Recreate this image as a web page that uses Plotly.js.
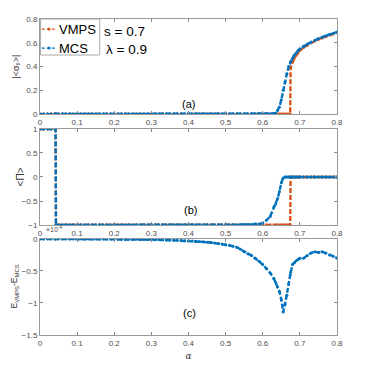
<!DOCTYPE html>
<html>
<head>
<meta charset="utf-8">
<script src="https://cdn.plot.ly/plotly-3.0.1.min.js"></script>
<style>
  html, body { margin: 0; padding: 0; background: #fff; }
  #chart { width: 376px; height: 368px; }
</style>
</head>
<body>
<div id="chart"></div>
<script>
// alpha grid, finer around the jumps
const alpha = [
  0, 0.01, 0.02, 0.03, 0.04,
  0.042, 0.043,
  0.05, 0.06, 0.07, 0.08, 0.09, 0.10, 0.11, 0.12, 0.13, 0.14,
  0.15, 0.16, 0.17, 0.18, 0.19, 0.20, 0.21, 0.22, 0.23, 0.24,
  0.25, 0.26, 0.27, 0.28, 0.29, 0.30, 0.31, 0.32, 0.33, 0.34,
  0.35, 0.36, 0.37, 0.38, 0.39, 0.40, 0.41, 0.42, 0.43, 0.44,
  0.45, 0.46, 0.47, 0.48, 0.49, 0.50, 0.51, 0.52, 0.53, 0.54,
  0.55, 0.56, 0.57, 0.58, 0.59, 0.60, 0.61, 0.62, 0.63,
  0.635, 0.64, 0.645, 0.65, 0.655, 0.66, 0.665, 0.67,
  0.674, 0.675,
  0.68, 0.685, 0.69, 0.695, 0.70,
  0.71, 0.72, 0.73, 0.74, 0.75, 0.76, 0.77, 0.78, 0.79, 0.80
];

// (a) |<sigma_x>|
const sxVMPS = [
  0, 0, 0, 0, 0,
  0, 0,
  0, 0, 0, 0, 0, 0, 0, 0, 0, 0,
  0, 0, 0, 0, 0, 0, 0, 0, 0, 0,
  0, 0, 0, 0, 0, 0, 0, 0, 0, 0,
  0, 0, 0, 0, 0, 0, 0, 0, 0, 0,
  0, 0, 0, 0, 0, 0, 0, 0, 0, 0,
  0, 0, 0, 0, 0, 0, 0, 0, 0,
  0, 0, 0, 0, 0, 0, 0, 0,
  0, 0.39,
  0.44, 0.47, 0.495, 0.515, 0.535,
  0.56, 0.58, 0.60, 0.615, 0.63, 0.64, 0.655, 0.665, 0.675, 0.685
];
const sxMCS = [
  0, 0, 0, 0, 0,
  0, 0,
  0, 0, 0, 0, 0, 0, 0, 0, 0, 0,
  0, 0, 0, 0, 0, 0, 0, 0, 0, 0,
  0, 0, 0, 0, 0, 0, 0, 0, 0, 0,
  0, 0, 0, 0, 0, 0, 0, 0, 0, 0,
  0, 0, 0, 0, 0, 0, 0, 0, 0, 0,
  0, 0, 0, 0, 0, 0, 0, 0, 0.005,
  0.01, 0.03, 0.06, 0.12, 0.2, 0.27, 0.34, 0.4,
  0.43, 0.44,
  0.47, 0.495, 0.515, 0.535, 0.55,
  0.57, 0.59, 0.605, 0.62, 0.635, 0.645, 0.66, 0.67, 0.68, 0.69
];

// (b) <Pi>
const piVMPS = [
  1, 1, 1, 1, 1,
  1, -1,
  -1, -1, -1, -1, -1, -1, -1, -1, -1, -1,
  -1, -1, -1, -1, -1, -1, -1, -1, -1, -1,
  -1, -1, -1, -1, -1, -1, -1, -1, -1, -1,
  -1, -1, -1, -1, -1, -1, -1, -1, -1, -1,
  -1, -1, -1, -1, -1, -1, -1, -1, -1, -1,
  -1, -1, -1, -1, -1, -1, -1, -1, -1,
  -1, -1, -1, -1, -1, -1, -1, -1,
  -1, 0,
  0, 0, 0, 0, 0,
  0, 0, 0, 0, 0, 0, 0, 0, 0, 0
];
const piMCS = [
  1, 1, 1, 1, 1,
  1, -1,
  -1, -1, -1, -1, -1, -1, -1, -1, -1, -1,
  -1, -1, -1, -1, -1, -1, -1, -1, -1, -1,
  -1, -1, -1, -1, -1, -1, -1, -1, -1, -1,
  -1, -1, -1, -1, -1, -1, -1, -1, -1, -1,
  -1, -1, -1, -1, -1, -1, -1, -1, -1, -1,
  -0.99, -0.99, -0.99, -0.98, -0.98, -0.96, -0.9, -0.82, -0.62,
  -0.56, -0.45, -0.3, -0.12, -0.02, 0, 0, 0,
  0, 0,
  0, 0, 0, 0, 0,
  0, 0, 0, 0, 0, 0, 0, 0, 0, 0
];

// (c) E_VMPS - E_MCS, in units of 1e-4
const dE = [
  0, 0, 0, 0, 0,
  0, 0,
  0, 0, 0, 0, 0, 0, 0, 0, -0.001, -0.001,
  -0.001, -0.001, -0.001, -0.002, -0.002, -0.002, -0.003, -0.003, -0.004, -0.004,
  -0.005, -0.006, -0.007, -0.008, -0.009, -0.01, -0.011, -0.012, -0.014, -0.016,
  -0.018, -0.02, -0.022, -0.024, -0.027, -0.03, -0.033, -0.036, -0.04, -0.044,
  -0.05, -0.056, -0.063, -0.07, -0.078, -0.09, -0.1, -0.115, -0.13, -0.16,
  -0.2, -0.23, -0.26, -0.3, -0.35, -0.4, -0.46, -0.53, -0.62,
  -0.68, -0.75, -0.82, -0.95, -1.14, -1.02, -0.88, -0.7,
  -0.56, -0.52,
  -0.4, -0.37, -0.34, -0.32, -0.3,
  -0.3, -0.26, -0.22, -0.2, -0.21, -0.2, -0.22, -0.25, -0.27, -0.3
];

const seriesNames = ['VMPS', 'MCS'];
const orange = '#D95319';
const blue = '#0072BD';
const FONT = 'Liberation Sans, Arial, sans-serif';

function series(y, color, xa, ya) {
  return {
    x: alpha, y: y,
    xaxis: xa, yaxis: ya,
    type: 'scatter', mode: 'lines+markers',
    line: { color: color, width: 2.4, dash: '5px,2px' },
    marker: { color: color, size: 3 },
    showlegend: false
  };
}

const data = [
  series(sxVMPS, orange, 'x', 'y'),
  series(sxMCS, blue, 'x', 'y'),
  series(piVMPS, orange, 'x2', 'y2'),
  series(piMCS, blue, 'x2', 'y2'),
  series(dE, blue, 'x3', 'y3')
];

const tickFont = { family: FONT, size: 8, color: '#4d4d4d' };

function xax(anchor) {
  return {
    anchor: anchor, range: [0, 0.8], dtick: 0.1,
    ticks: 'inside', ticklen: 3, tickcolor: '#888',
    showline: true, linecolor: '#999', linewidth: 1, mirror: 'ticks',
    showgrid: false, zeroline: false, tickfont: tickFont
  };
}
function yax(anchor, domain, range, dtick) {
  return {
    anchor: anchor, domain: domain, range: range, dtick: dtick,
    ticks: 'inside', ticklen: 3, tickcolor: '#888',
    showline: true, linecolor: '#999', linewidth: 1, mirror: 'ticks',
    showgrid: false, zeroline: false, tickfont: tickFont
  };
}

// y titles placed as rotated annotations so they sit where the original has them
function ytitle(text, x, y, size) {
  return { text: text, xref: 'paper', yref: 'paper', x: x, y: y, xanchor: 'center', yanchor: 'middle',
    textangle: -90, showarrow: false, font: { family: FONT, size: size, color: '#333' } };
}

// hand-made legend box in the top-left of panel (a)
const legendShapes = [
  { type: 'rect', xref: 'paper', yref: 'paper', x0: 0.002, x1: 0.201, y0: 0.886, y1: 1,
    line: { color: '#aaa', width: 1 }, fillcolor: '#fff', layer: 'above' }
];
const legendRows = [0.968, 0.908];
const legendColors = [orange, blue];
const legendText = [];
legendRows.forEach((yy, i) => {
  legendShapes.push({ type: 'line', xref: 'paper', yref: 'paper', x0: 0.006, x1: 0.056, y0: yy, y1: yy,
    line: { color: legendColors[i], width: 1.2, dash: '3px,2px' }, layer: 'above' });
  legendShapes.push({ type: 'circle', xref: 'paper', yref: 'paper', x0: 0.0255, x1: 0.0355, y0: yy - 0.0048, y1: yy + 0.0048,
    line: { width: 0 }, fillcolor: legendColors[i], layer: 'above' });
  legendText.push({ text: seriesNames[i], xref: 'paper', yref: 'paper', x: 0.058, y: yy, xanchor: 'left', yanchor: 'middle',
    showarrow: false, font: { family: FONT, size: 13, color: '#000' } });
});

const layout = {
  width: 376, height: 368,
  margin: { l: 40, r: 39, t: 19, b: 33 },
  paper_bgcolor: '#fff', plot_bgcolor: '#fff',
  font: { family: FONT },
  showlegend: false,
  xaxis: xax('y'),
  xaxis2: xax('y2'),
  xaxis3: Object.assign(xax('y3'), {
    title: { text: '<i>α</i>', font: { family: 'DejaVu Serif, serif', size: 9, color: '#333' }, standoff: 6 }
  }),
  yaxis: yax('x', [0.699, 1], [0, 0.8], 0.2),
  yaxis2: yax('x2', [0.348, 0.652], [-1, 1], 0.5),
  yaxis3: yax('x3', [0, 0.304], [-1.5, 0], 0.5),
  shapes: legendShapes,
  annotations: legendText.concat([
    ytitle('|&lt;σ<sub>x</sub>&gt;|', -0.082, 0.848, 9),
    ytitle('&lt;Π&gt;', -0.066, 0.5, 10),
    ytitle('E<sub>VMPS</sub>-E<sub>MCS</sub>', -0.086, 0.155, 8.5),
    { text: 's = 0.7', xref: 'paper', yref: 'paper', x: 0.21, y: 0.962, xanchor: 'left', yanchor: 'middle', showarrow: false, font: { family: FONT, size: 13.5, color: '#000' } },
    { text: 'λ = 0.9', xref: 'paper', yref: 'paper', x: 0.215, y: 0.905, xanchor: 'left', yanchor: 'middle', showarrow: false, font: { family: FONT, size: 13.5, color: '#000' } },
    { text: '(a)', xref: 'paper', yref: 'paper', x: 0.499, y: 0.756, showarrow: false, font: { family: FONT, size: 11, color: '#000' } },
    { text: '(b)', xref: 'paper', yref: 'paper', x: 0.506, y: 0.396, showarrow: false, font: { family: FONT, size: 11, color: '#000' } },
    { text: '(c)', xref: 'paper', yref: 'paper', x: 0.503, y: 0.044, showarrow: false, font: { family: FONT, size: 11, color: '#000' } },
    { text: '×10<sup>-4</sup>', xref: 'paper', yref: 'paper', x: 0.012, y: 0.335, xanchor: 'left', yanchor: 'middle', showarrow: false, font: { family: FONT, size: 7, color: '#4d4d4d' } }
  ])
};

Plotly.newPlot('chart', data, layout, { displayModeBar: false, staticPlot: true });
</script>
</body>
</html>
